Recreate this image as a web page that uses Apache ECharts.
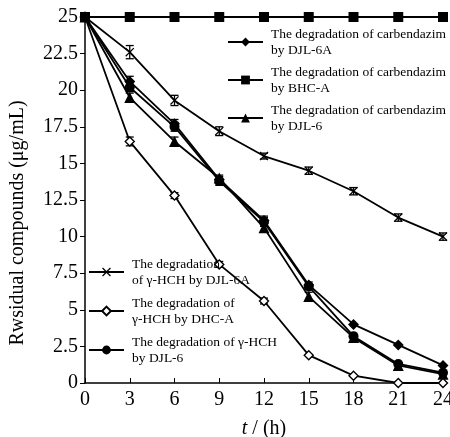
<!DOCTYPE html>
<html lang="en">
<head>
    <meta charset="UTF-8"/>
    <script type="text/javascript" src="https://cdn.jsdelivr.net/npm/echarts@6/dist/echarts.min.js"></script>
    <title>Degradation</title>
    <style>
        html, body {margin: 0; padding: 0; background: #fff;}
        #main {width: 450px; height: 437px;}
    </style>
</head>
<body>
<div id="main"></div>
<script type="text/javascript">
    // sampling time (h)
    var hours = [0, 3, 6, 9, 12, 15, 18, 21, 24]
    var xTicks = [0, 3, 6, 9, 12, 15, 18, 21, 24]
    var yTicks = [0, 2.5, 5, 7.5, 10, 12.5, 15, 17.5, 20, 22.5, 25]

    // residual compounds (ug/mL)
    var carbDJL6A = [25, 20.6, 17.7, 13.9, 11.1, 6.7, 4.0, 2.6, 1.2]
    var carbBHCA = [25, 25, 25, 25, 25, 25, 25, 25, 25]
    var carbDJL6 = [25, 19.5, 16.5, 14.0, 10.6, 5.9, 3.1, 1.2, 0.6]
    var hchDJL6A = [25, 22.6, 19.3, 17.2, 15.5, 14.5, 13.1, 11.3, 10.0]
    var hchDHCA = [25, 16.5, 12.8, 8.1, 5.6, 1.9, 0.5, 0, 0]
    var hchDJL6 = [25, 20.2, 17.5, 13.8, 11.0, 6.6, 3.2, 1.3, 0.7]

    // error bars (+/-)
    var errCarbDJL6A = [0, 0.35, 0.3, 0.3, 0.3, 0.2, 0, 0, 0]
    var errCarbDJL6 = [0, 0.3, 0.3, 0, 0.3, 0.3, 0, 0, 0]
    var errHchDJL6A = [0, 0.45, 0.35, 0.3, 0.2, 0.25, 0.25, 0.25, 0.25]
    var errHchDHCA = [0, 0.3, 0.2, 0.2, 0.2, 0, 0, 0, 0]
    var errHchDJL6 = [0, 0.3, 0.3, 0.3, 0.3, 0, 0, 0, 0]

    var names = [
        'The degradation of carbendazim\nby DJL-6A',
        'The degradation of carbendazim\nby BHC-A',
        'The degradation of carbendazim\nby DJL-6',
        'The degradation\nof γ-HCH by DJL-6A',
        'The degradation of\nγ-HCH by DHC-A',
        'The degradation of γ-HCH\nby DJL-6'
    ]

    var crossPath = 'path://M0,1L1,0L5,4L9,0L10,1L6,5L10,9L9,10L5,6L1,10L0,9L4,5Z'
    var font = 'Liberation Serif'

    function pairs(vals) {
        var out = []
        for (var i = 0; i < hours.length; i++) out.push([hours[i], vals[i]])
        return out
    }

    function errData() {
        var sets = [[carbDJL6A, errCarbDJL6A], [carbDJL6, errCarbDJL6], [hchDJL6A, errHchDJL6A],
            [hchDHCA, errHchDHCA], [hchDJL6, errHchDJL6]]
        var out = []
        sets.forEach(function (s) {
            for (var i = 0; i < hours.length; i++) {
                if (s[1][i] > 0) out.push([hours[i], s[0][i], s[1][i]])
            }
        })
        return out
    }

    function lineSeries(name, vals, symbol, size, fill) {
        return {
            name: name,
            type: 'line',
            data: pairs(vals),
            symbol: symbol,
            symbolSize: size,
            showAllSymbol: true,
            clip: false,
            z: 3,
            lineStyle: {color: '#000', width: 1.8},
            itemStyle: {color: fill || '#000', borderColor: '#000', borderWidth: fill ? 1.4 : 0}
        }
    }

    function legendAt(name, left, top) {
        return {
            data: [name],
            left: left,
            top: top,
            padding: 0,
            itemWidth: 35,
            itemHeight: 11,
            selectedMode: false,
            textStyle: {fontFamily: font, fontSize: 13.5, color: '#000', lineHeight: 16, padding: [16, 0, 0, 3]}
        }
    }

    var myChart = echarts.init(document.getElementById('main'))
    var option = {
        animation: false,
        backgroundColor: '#fff',
        grid: {left: 85, right: 7, top: 17, bottom: 54, containLabel: false, outerBoundsMode: 'none'},
        legend: [
            legendAt(names[0], 227, 18),
            legendAt(names[1], 227, 56),
            legendAt(names[2], 227, 94),
            legendAt(names[3], 88, 248),
            legendAt(names[4], 88, 287),
            legendAt(names[5], 88, 326)
        ],
        xAxis: {
            type: 'value',
            min: 0,
            max: 24,
            interval: 3,
            name: '{i|t} / (h)',
            nameLocation: 'middle',
            nameGap: 36,
            nameTextStyle: {
                fontFamily: font, fontSize: 20, color: '#000',
                rich: {i: {fontFamily: font, fontSize: 20, fontStyle: 'italic', color: '#000'}}
            },
            splitLine: {show: false},
            axisLine: {lineStyle: {color: '#000', width: 1.5}},
            axisTick: {inside: true, length: 5, lineStyle: {color: '#000'}},
            axisLabel: {
                fontFamily: font, fontSize: 20, color: '#000', margin: 7,
                formatter: function (v) { return xTicks.indexOf(v) >= 0 ? String(v) : '' }
            }
        },
        yAxis: {
            type: 'value',
            min: 0,
            max: 25,
            interval: 2.5,
            name: 'Rwsidual compounds (μg/mL)',
            nameLocation: 'middle',
            nameGap: 57,
            nameTextStyle: {fontFamily: font, fontSize: 20, color: '#000', padding: [0, 46, 0, 0]},
            splitLine: {show: false},
            axisLine: {show: true, lineStyle: {color: '#000', width: 1.5}},
            axisTick: {show: true, length: 5, lineStyle: {color: '#000'}},
            axisLabel: {
                fontFamily: font, fontSize: 20, color: '#000', margin: 7,
                formatter: function (v) { return yTicks.indexOf(v) >= 0 ? String(v) : '' }
            }
        },
        series: [
            lineSeries(names[0], carbDJL6A, 'diamond', 11),
            lineSeries(names[1], carbBHCA, 'rect', 10),
            lineSeries(names[2], carbDJL6, 'triangle', 11),
            lineSeries(names[3], hchDJL6A, crossPath, 9),
            lineSeries(names[4], hchDHCA, 'diamond', 9, '#fff'),
            lineSeries(names[5], hchDJL6, 'circle', 10),
            {
                type: 'custom',
                data: errData(),
                z: 2,
                clip: false,
                renderItem: function (params, api) {
                    var x = api.value(0), y = api.value(1), e = api.value(2)
                    var p1 = api.coord([x, y + e])
                    var p2 = api.coord([x, y - e])
                    var w = 4
                    var st = {stroke: '#000', lineWidth: 1.3}
                    return {
                        type: 'group',
                        children: [
                            {type: 'line', shape: {x1: p1[0], y1: p1[1], x2: p2[0], y2: p2[1]}, style: st},
                            {type: 'line', shape: {x1: p1[0] - w, y1: p1[1], x2: p1[0] + w, y2: p1[1]}, style: st},
                            {type: 'line', shape: {x1: p2[0] - w, y1: p2[1], x2: p2[0] + w, y2: p2[1]}, style: st}
                        ]
                    }
                }
            }
        ]
    }
    myChart.setOption(option)
</script>
</body>
</html>
